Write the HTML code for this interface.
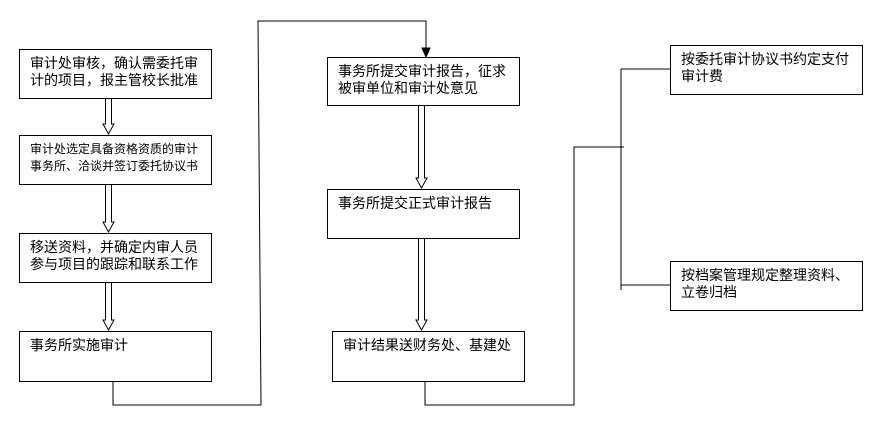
<!DOCTYPE html>
<html><head><meta charset="utf-8"><style>
body{margin:0;background:#fff;width:884px;height:424px;overflow:hidden;position:relative;font-family:"Liberation Sans","Noto Sans CJK SC","WenQuanYi Zen Hei",sans-serif;}
.b{position:absolute;border:1px solid #000;box-sizing:border-box;background:#fff;font-size:14px;line-height:17px;padding:5px 0 0 10px;color:#000;}
.s{font-size:12px;line-height:17px;}
svg{position:absolute;left:0;top:0;}
</style></head><body>
<svg width="884" height="424">
<g fill="none" stroke="#000" stroke-width="1">
<polyline points="113,381 113,405 261,405 258,21 426,21 426,50"/>
<polygon points="422,48 430,48 426,57" fill="#000"/>
<polyline points="425,381 425,405 574,405 574,147 624,147"/>
<line x1="621" y1="69" x2="621" y2="290"/>
<line x1="621" y1="69" x2="670" y2="69"/>
<line x1="621" y1="285" x2="670" y2="285"/>
</g>
<g fill="#fff" stroke="#000" stroke-width="1">
<path d="M105.5,98 V124 H103 L108.5,134 L114,124 H111.5 V98"/>
<path d="M105.5,184 V222 H103 L108.5,232 L114,222 H111.5 V184"/>
<path d="M105.5,282 V320 H103 L108.5,330 L114,320 H111.5 V282"/>
<path d="M418.5,105 V178 H416 L421.5,188 L427,178 H424.5 V105"/>
<path d="M418.5,238 V320 H416 L421.5,330 L427,320 H424.5 V238"/>
</g>
</svg>
<div class="b" style="left:19px;top:49px;width:193px;height:50px;">审计处审核，确认需委托审<br>计的项目，报主管校长批准</div>
<div class="b s" style="left:19px;top:135px;width:193px;height:50px;">审计处选定具备资格资质的审计<br>事务所、洽谈并签订委托协议书</div>
<div class="b" style="left:19px;top:233px;width:193px;height:50px;">移送资料，并确定内审人员<br>参与项目的跟踪和联系工作</div>
<div class="b" style="left:19px;top:331px;width:193px;height:51px;">事务所实施审计</div>
<div class="b" style="left:327px;top:57px;width:193px;height:49px;">事务所提交审计报告，征求<br>被审单位和审计处意见</div>
<div class="b" style="left:327px;top:189px;width:193px;height:50px;">事务所提交正式审计报告</div>
<div class="b" style="left:332px;top:331px;width:193px;height:51px;">审计结果送财务处、基建处</div>
<div class="b" style="left:670px;top:45px;width:193px;height:50px;">按委托审计协议书约定支付<br>审计费</div>
<div class="b" style="left:670px;top:261px;width:193px;height:50px;">按档案管理规定整理资料、<br>立卷归档</div>
</body></html>
